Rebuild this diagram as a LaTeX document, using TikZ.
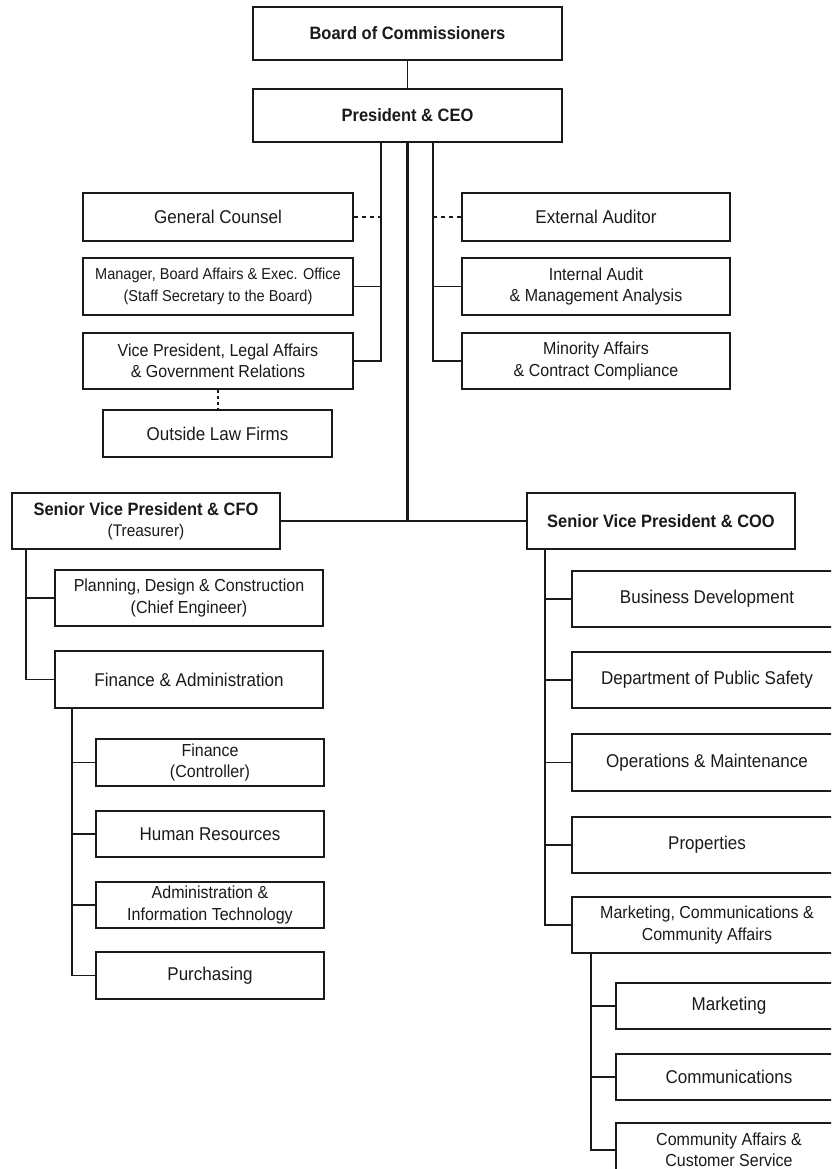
\documentclass[tikz,border=0pt]{standalone}
\usepackage{fontspec}
\setmainfont{Liberation Sans}[FakeStretch=0.92]
\newcommand\fsz[1]{\fontsize{#1}{21.5pt}\selectfont}
\definecolor{ink}{HTML}{1A1A1A}
\begin{document}
\begin{tikzpicture}[x=1pt,y=-1pt,
  bx/.style={draw=ink,line width=1.3pt,rectangle,inner sep=0pt,align=center,text=ink,font=\fsz{18.5pt}},
  two/.style={font=\fsz{17.4pt}},
  small/.style={font=\fsz{15.8pt}},
  hd/.style={font=\fsz{17.9pt}\bfseries},
  ln/.style={draw=ink,line width=1.3pt},
  trunk/.style={draw=ink,line width=2.3pt},
  dsh/.style={draw=ink,line width=1.1pt,dash pattern=on 4pt off 4pt},
  dotv/.style={draw=ink,line width=1.1pt,dash pattern=on 3pt off 3pt}]
\useasboundingbox (0,0) rectangle (831,1169);
\clip (0,0) rectangle (831,1169);
\fill[white] (0,0) rectangle (831,1169);
% top
\node[bx,hd,minimum width=309pt,minimum height=53pt] (board) at (407.5,33.5) {Board of Commissioners};
\node[bx,hd,minimum width=309pt,minimum height=53pt] (ceo) at (407.5,115.5) {President \& CEO};
% left staff
\node[bx,minimum width=270pt,minimum height=48pt] (gc) at (218,217) {General Counsel};
\node[bx,small,minimum width=270pt,minimum height=57pt] (mgr) at (218,286.5) {Manager, Board Affairs \& Exec. Office\\(Staff Secretary to the Board)};
\node[bx,two,minimum width=270pt,minimum height=56pt] (vpl) at (218,361) {Vice President, Legal Affairs\\\& Government Relations};
\node[bx,minimum width=229pt,minimum height=47pt] (olf) at (217.5,433.5) {Outside Law Firms};
% right staff
\node[bx,minimum width=268pt,minimum height=48pt] (ext) at (596,217) {External Auditor};
\node[bx,two,minimum width=268pt,minimum height=57pt] (ia) at (596,286.5) {Internal Audit\\\& Management Analysis};
\node[bx,two,minimum width=268pt,minimum height=56pt] (ma) at (596,361) {Minority Affairs\\\& Contract Compliance};
% CFO
\node[bx,hd,minimum width=268pt,minimum height=56pt] (cfo) at (146,521) {Senior Vice President \& CFO\\[-1pt]{\mdseries\fsz{16.8pt}(Treasurer)}};
\node[bx,two,minimum width=268pt,minimum height=56pt] (pdc) at (189,598) {Planning, Design \& Construction\\(Chief Engineer)};
\node[bx,minimum width=268pt,minimum height=57pt] (fa) at (189,679.5) {Finance \& Administration};
\node[bx,two,minimum width=228pt,minimum height=47pt] (fin) at (210,762.5) {Finance\\(Controller)};
\node[bx,minimum width=228pt,minimum height=46pt] (hr) at (210,834) {Human Resources};
\node[bx,two,minimum width=228pt,minimum height=46pt] (ait) at (210,905) {Administration \&\\Information Technology};
\node[bx,minimum width=228pt,minimum height=47pt] (pur) at (210,975.5) {Purchasing};
% COO
\node[bx,hd,minimum width=268pt,minimum height=56pt] (coo) at (661,521) {Senior Vice President \& COO};
\node[bx,minimum width=270pt,minimum height=56pt] (bd) at (707,599) {Business Development};
\node[bx,minimum width=270pt,minimum height=56pt] (dps) at (707,680) {Department of Public Safety};
\node[bx,minimum width=270pt,minimum height=57pt] (om) at (707,762.5) {Operations \& Maintenance};
\node[bx,minimum width=270pt,minimum height=56pt] (prop) at (707,845) {Properties};
\node[bx,two,minimum width=270pt,minimum height=56pt] (mcc) at (707,925) {Marketing, Communications \&\\Community Affairs};
\node[bx,minimum width=226pt,minimum height=46pt] (mkt) at (729,1006) {Marketing};
\node[bx,minimum width=226pt,minimum height=46pt] (com) at (729,1077) {Communications};
\node[bx,two,minimum width=226pt,minimum height=54pt] (cacs) at (729,1150) {Community Affairs \&\\Customer Service};
% spine coordinates
\coordinate (ls) at (381,142);
\coordinate (rs) at (433,142);
\coordinate (cs) at (26,549);
\coordinate (fs) at (72,708);
\coordinate (os) at (545,549);
\coordinate (ms) at (591,953);
% connectors
\draw[ln] (board.south) -- (ceo.north);
\draw[trunk] (ceo.south) -- (ceo.south |- cfo.east);
\draw[ln] (cfo.east) -- (coo.west);
\draw[ln] (ls) |- (vpl.east);
\draw[ln] (mgr.east) -- (mgr.east -| ls);
\draw[dsh] (gc.east) -- (gc.east -| ls);
\draw[ln] (rs) |- (ma.west);
\draw[ln] (ia.west) -- (ia.west -| rs);
\draw[dsh] (ext.west) -- (ext.west -| rs);
\draw[dotv] (vpl.south) -- (vpl.south |- olf.north);
\draw[ln] (cs) |- (fa.west);
\draw[ln] (pdc.west) -- (pdc.west -| cs);
\draw[ln] (fs) |- (pur.west);
\draw[ln] (fin.west) -- (fin.west -| fs);
\draw[ln] (hr.west) -- (hr.west -| fs);
\draw[ln] (ait.west) -- (ait.west -| fs);
\draw[ln] (os) |- (mcc.west);
\draw[ln] (bd.west) -- (bd.west -| os);
\draw[ln] (dps.west) -- (dps.west -| os);
\draw[ln] (om.west) -- (om.west -| os);
\draw[ln] (prop.west) -- (prop.west -| os);
\draw[ln] (ms) |- (cacs.west);
\draw[ln] (mkt.west) -- (mkt.west -| ms);
\draw[ln] (com.west) -- (com.west -| ms);
\end{tikzpicture}
\end{document}
